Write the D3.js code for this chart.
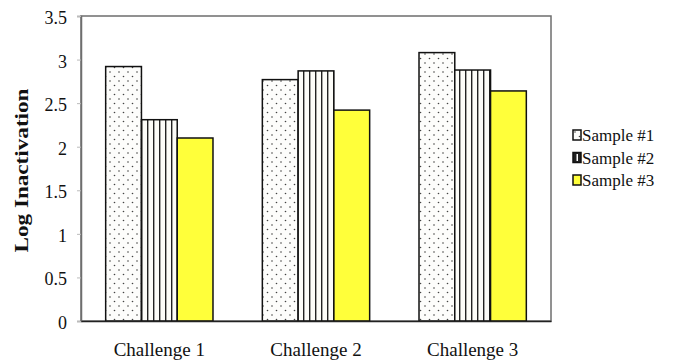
<!DOCTYPE html>
<html>
<head>
<meta charset="utf-8">
<script src="https://cdn.jsdelivr.net/npm/d3@7"></script>
<style>
  body { margin: 0; background: #fff; }
  svg { display: block; font-family: "Liberation Serif", "Times New Roman", serif; }
  svg text { font-family: "Liberation Serif", "Times New Roman", serif !important; }
</style>
</head>
<body>
<svg id="chart" width="687" height="362"></svg>
<script>
// Data
const categories = ["Challenge 1", "Challenge 2", "Challenge 3"];
const seriesNames = ["Sample #1", "Sample #2", "Sample #3"];
const sample1 = [2.92, 2.77, 3.08];
const sample2 = [2.31, 2.87, 2.88];
const sample3 = [2.10, 2.42, 2.64];
const yTicks = [0, 0.5, 1, 1.5, 2, 2.5, 3, 3.5];

const seriesValues = [sample1, sample2, sample3];

const svg = d3.select("#chart");
const margin = { left: 81, top: 16, right: 136, bottom: 41 };
const W = 687, H = 362;
const innerW = W - margin.left - margin.right;
const innerH = H - margin.top - margin.bottom;

// Fill patterns
const defs = svg.append("defs");
const dots = defs.append("pattern")
  .attr("id", "dots").attr("patternUnits", "userSpaceOnUse")
  .attr("width", 9).attr("height", 9);
dots.append("rect").attr("width", 9).attr("height", 9).attr("fill", "#fdfdfb");
dots.append("circle").attr("cx", 2).attr("cy", 2).attr("r", 0.8).attr("fill", "#444");
dots.append("circle").attr("cx", 6.5).attr("cy", 6.5).attr("r", 0.8).attr("fill", "#444");

const stripes = defs.append("pattern")
  .attr("id", "stripes").attr("patternUnits", "userSpaceOnUse")
  .attr("width", 6).attr("height", 6);
stripes.append("rect").attr("width", 6).attr("height", 6).attr("fill", "#fcfcf8");
stripes.append("rect").attr("x", 0).attr("width", 1.4).attr("height", 6).attr("fill", "#222");

const fills = ["url(#dots)", "url(#stripes)", "#ffff3a"];

const g = svg.append("g").attr("transform", `translate(${margin.left},${margin.top})`);

const x0 = d3.scaleBand().domain(categories).range([0, innerW]);
const groupW = x0.bandwidth() * 0.685;
const x1 = d3.scaleBand().domain(seriesNames).range([0, groupW]);
const y = d3.scaleLinear().domain([0, 3.5]).range([innerH, 0]);

// Plot border
g.append("rect")
  .attr("x", 0).attr("y", 0).attr("width", innerW).attr("height", innerH)
  .attr("fill", "#fff").attr("stroke", "#6e6e6e").attr("stroke-width", 1.5);

// Bars
categories.forEach((cat, ci) => {
  const gx = x0(cat) + (x0.bandwidth() - groupW) / 2;
  seriesNames.forEach((s, si) => {
    const v = seriesValues[si][ci];
    g.append("rect")
      .attr("x", gx + x1(s))
      .attr("y", y(v))
      .attr("width", x1.bandwidth())
      .attr("height", y(0) - y(v))
      .attr("fill", fills[si])
      .attr("stroke", "#111")
      .attr("stroke-width", 1.5);
  });
});

// Y axis
const yAxis = d3.axisLeft(y).tickValues(yTicks).tickSize(4).tickPadding(10)
  .tickFormat(d => String(d));
const ya = g.append("g").call(yAxis);
ya.select(".domain").attr("stroke", "#6e6e6e").attr("stroke-width", 1.5);
ya.selectAll(".tick line").attr("stroke", "#bbb");
ya.selectAll("text").attr("font-size", 18).attr("fill", "#111").attr("dy", "0.42em");

// X axis
const xAxis = d3.axisBottom(x0).tickSize(0).tickPadding(22);
const xa = g.append("g").attr("transform", `translate(0,${innerH})`).call(xAxis);
xa.select(".domain").attr("stroke", "#222").attr("stroke-width", 1.5);
xa.selectAll("text").attr("font-size", 19).attr("fill", "#111");

// Y label
svg.append("text")
  .attr("transform", `translate(28,${margin.top + innerH / 2 + 2}) rotate(-90)`)
  .attr("text-anchor", "middle")
  .attr("font-size", 18).attr("font-weight", "bold").attr("fill", "#111")
  .attr("textLength", 164).attr("lengthAdjust", "spacingAndGlyphs")
  .text("Log Inactivation");

// Legend
const legend = svg.append("g").attr("transform", "translate(573,130)");
seriesNames.forEach((s, i) => {
  const row = legend.append("g").attr("transform", `translate(0,${i * 22.5})`);
  row.append("rect").attr("x", 0).attr("y", 0).attr("width", 8).attr("height", 10)
    .attr("fill", i === 1 ? "#222" : fills[i])
    .attr("stroke", "#111").attr("stroke-width", 1.5);
  if (i === 1) {
    row.append("rect").attr("x", 3.5).attr("y", 1.5).attr("width", 1.5).attr("height", 7).attr("fill", "#fff");
  }
  row.append("text").attr("x", 9).attr("y", 11)
    .attr("font-size", 17).attr("fill", "#111").text(s);
});
</script>
</body>
</html>
